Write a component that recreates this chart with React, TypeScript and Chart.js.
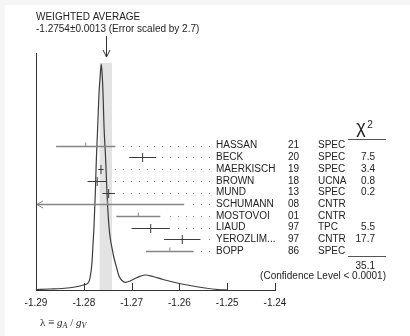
import { useEffect, useRef } from "react";
import { Chart, registerables } from "chart.js";
Chart.register(...registerables);

const names = ["HASSAN", "BECK", "MAERKISCH", "BROWN", "MUND", "SCHUMANN", "MOSTOVOI", "LIAUD", "YEROZLIM...", "BOPP"];
const years = ["21", "20", "19", "18", "13", "08", "01", "97", "97", "86"];
const methods = ["SPEC", "SPEC", "SPEC", "UCNA", "SPEC", "CNTR", "CNTR", "TPC", "CNTR", "SPEC"];
const values = [-1.2796, -1.2677, -1.27641, -1.2772, -1.2748, -1.275, -1.2686, -1.266, -1.2594, -1.262];
const errors = [0.0062, 0.0028, 0.00056, 0.002, 0.0013, 0.016, 0.0046, 0.004, 0.0038, 0.005];
const chi2 = ["", "7.5", "3.4", "0.8", "0.2", "", "", "5.5", "17.7", ""];
const used = [false, true, true, true, true, false, false, true, true, false];
const average = -1.2754;
const averageError = 0.0013;
const chi2Total = "35.1";
const xTicks = [-1.29, -1.28, -1.27, -1.26, -1.25, -1.24];

const curveX = [-1.29, -1.28707, -1.28456, -1.28247, -1.28079, -1.27975, -1.27912, -1.2787, -1.27828, -1.27808,
  -1.27787, -1.27759, -1.27738, -1.27709, -1.27682, -1.27655, -1.27634, -1.27615, -1.27598, -1.27577,
  -1.27542, -1.27515, -1.27473, -1.27441, -1.2741, -1.27368, -1.2732, -1.27264, -1.27201, -1.27128,
  -1.27033, -1.26887, -1.2672, -1.26552, -1.26343, -1.26092, -1.25778, -1.25464, -1.25192, -1.24983];
const curveY = [0.5, 1, 1.5, 2.5, 4, 5.5, 7, 12, 28, 45,
  63.3, 97, 130, 163.3, 196.7, 215, 226, 215, 196.7, 163.3,
  130, 97, 63.3, 50, 42, 32, 23.3, 14, 9.5, 7.7,
  9, 12.5, 15, 13.5, 10.5, 7.5, 4.5, 2, 0.5, 0];

const SANS = '"Liberation Sans", Arial, Helvetica, sans-serif';
const SERIF = '"Liberation Serif", "Times New Roman", serif';

const ideogramPlugin = {
  id: "ideogram",
  beforeDraw(chart: any) {
    const { ctx, width, height } = chart;
    ctx.save();
    ctx.fillStyle = "#f6f6f6";
    ctx.fillRect(0, 0, width, height);
    ctx.fillStyle = "#ffffff";
    ctx.fillRect(5, 5, width - 5, height - 5);
    ctx.restore();
  },
  beforeDatasetsDraw(chart: any) {
    const { ctx, chartArea, scales } = chart;
    const x = scales.x, y = scales.y;
    const x0 = x.getPixelForValue(average - averageError);
    const x1 = x.getPixelForValue(average + averageError);
    const top = y.getPixelForValue(Math.max(...curveY) + 1);
    ctx.save();
    ctx.fillStyle = "#e3e3e3";
    ctx.fillRect(x0, top, x1 - x0, chartArea.bottom - top);
    ctx.restore();
  },
  afterDatasetsDraw(chart: any) {
    const { ctx, chartArea, scales } = chart;
    const x = scales.x, r = scales.rows;
    ctx.save();
    for (let i = 0; i < names.length; i++) {
      const py = Math.round(r.getPixelForValue(i)) + 0.5;
      const lo = values[i] - errors[i];
      const hi = values[i] + errors[i];
      const clipped = lo < x.min;
      const pl = clipped ? chartArea.left + 1 : x.getPixelForValue(lo);
      const ph = x.getPixelForValue(hi);
      const pc = x.getPixelForValue(values[i]);
      ctx.strokeStyle = used[i] ? "#3a3a3a" : "#858585";
      ctx.lineWidth = used[i] ? 1 : 1.6;
      ctx.beginPath();
      ctx.moveTo(pl, py);
      ctx.lineTo(ph, py);
      ctx.stroke();
      ctx.lineWidth = 1;
      ctx.beginPath();
      if (used[i]) {
        ctx.moveTo(pc, py - 4.5);
        ctx.lineTo(pc, py + 4.5);
      } else {
        ctx.moveTo(pc, py - 4);
        ctx.lineTo(pc, py);
      }
      ctx.stroke();
      if (clipped) {
        ctx.beginPath();
        ctx.moveTo(pl + 6, py - 3.5);
        ctx.lineTo(pl, py);
        ctx.lineTo(pl + 6, py + 3.5);
        ctx.stroke();
      }
      // dotted leader
      ctx.fillStyle = "#8a8a8a";
      for (let k = 0; k < 40; k++) {
        const dx = 209 - k * 7.8;
        if (dx < ph + 5) break;
        ctx.fillRect(Math.round(dx), py - 0.5, 1, 1);
      }
    }
    ctx.restore();
  },
  afterDraw(chart: any) {
    const { ctx, chartArea, scales } = chart;
    const x = scales.x, r = scales.rows;
    ctx.save();
    ctx.fillStyle = "#222";
    ctx.strokeStyle = "#333";
    ctx.lineWidth = 1;
    // tick marks upward
    for (const t of xTicks) {
      const px = Math.round(x.getPixelForValue(t)) + 0.5;
      ctx.beginPath();
      ctx.moveTo(px, chartArea.bottom);
      ctx.lineTo(px, chartArea.bottom - 7);
      ctx.stroke();
    }
    // weighted average arrow
    const ax = Math.round(x.getPixelForValue(average)) + 0.5;
    ctx.beginPath();
    ctx.moveTo(ax, chartArea.top - 17);
    ctx.lineTo(ax, chartArea.top + 4);
    ctx.moveTo(ax - 3.5, chartArea.top - 3);
    ctx.lineTo(ax, chartArea.top + 4);
    ctx.lineTo(ax + 3.5, chartArea.top - 3);
    ctx.stroke();
    // header text
    ctx.font = "10px " + SANS;
    ctx.textBaseline = "middle";
    ctx.textAlign = "left";
    ctx.fillText("WEIGHTED AVERAGE", 36, 17);
    ctx.fillText("-1.2754\u00b10.0013 (Error scaled by 2.7)", 36, 29);
    // rows text
    for (let i = 0; i < names.length; i++) {
      const py = r.getPixelForValue(i);
      ctx.textAlign = "left";
      ctx.fillText(names[i], 216, py);
      ctx.fillText(years[i], 288, py);
      ctx.fillText(methods[i], 318, py);
      ctx.textAlign = "right";
      if (chi2[i]) ctx.fillText(chi2[i], 375, py);
    }
    // chi2 header
    ctx.textAlign = "center";
    ctx.textBaseline = "alphabetic";
    ctx.font = "18px " + SANS;
    ctx.fillText("\u03c7", 361, 133);
    ctx.font = "10px " + SANS;
    ctx.fillText("2", 370, 128);
    ctx.textBaseline = "middle";
    ctx.beginPath();
    ctx.strokeStyle = "#555";
    ctx.moveTo(348, 139.5);
    ctx.lineTo(386, 139.5);
    ctx.moveTo(348, 256.5);
    ctx.lineTo(386, 256.5);
    ctx.stroke();
    ctx.font = "10px " + SANS;
    ctx.textAlign = "right";
    ctx.fillText(chi2Total, 375, 266);
    ctx.fillText("(Confidence Level < 0.0001)", 386, 276.5);
    // caption
    ctx.textAlign = "left";
    ctx.textBaseline = "alphabetic";
    let cx = 40;
    const base = 326;
    const part = (txt: string, font: string, dy = 0) => {
      ctx.font = font;
      ctx.fillText(txt, cx, base + dy);
      cx += ctx.measureText(txt).width;
    };
    part("\u03bb \u2261 ", "11px " + SERIF);
    part("g", "italic 11px " + SERIF);
    part("A", "italic 8px " + SERIF, 2);
    part(" / ", "11px " + SERIF);
    part("g", "italic 11px " + SERIF);
    part("V", "italic 8px " + SERIF, 2);
    ctx.restore();
  },
};

export default function App() {
  const ref = useRef<HTMLCanvasElement | null>(null);
  useEffect(() => {
    document.body.style.margin = "0";
    const canvas = ref.current!;
    const chart = new Chart(canvas, {
      type: "line",
      data: {
        datasets: [
          {
            data: curveX.map((v, i) => ({ x: v, y: curveY[i] })),
            borderColor: "#3c3c3c",
            borderWidth: 1.2,
            pointRadius: 0,
            fill: false,
            cubicInterpolationMode: "monotone",
          },
        ],
      },
      options: {
        animation: false,
        responsive: false,
        devicePixelRatio: 1,
        layout: { padding: { left: 36, right: 135, top: 53, bottom: 0 } },
        plugins: { legend: { display: false }, tooltip: { enabled: false } },
        scales: {
          x: {
            type: "linear",
            min: -1.29,
            max: -1.24,
            afterBuildTicks: (s: any) => {
              s.ticks = xTicks.map((v) => ({ value: v }));
            },
            afterFit: (s: any) => {
              s.height = 46;
            },
            grid: { display: false, drawTicks: false },
            border: { display: true, color: "#333", width: 1 },
            ticks: {
              padding: 7,
              color: "#222",
              font: { size: 10, family: SANS },
              callback: (v: any) => Number(v).toFixed(2),
              maxRotation: 0,
              autoSkip: false,
            },
          },
          y: {
            type: "linear",
            position: "left",
            min: 0,
            max: 237,
            afterFit: (s: any) => {
              s.width = 0;
            },
            grid: { display: false, drawTicks: false },
            border: { display: true, color: "#333", width: 1 },
            ticks: { display: false },
          },
          rows: {
            type: "linear",
            axis: "y",
            position: "right",
            display: true,
            reverse: true,
            min: -7.923,
            max: 12.333,
            afterFit: (s: any) => {
              s.width = 0;
            },
            grid: { display: false, drawTicks: false },
            border: { display: false },
            ticks: { display: false },
          },
        },
      },
      plugins: [ideogramPlugin],
    } as any);
    return () => chart.destroy();
  }, []);
  return <canvas ref={ref} width={410} height={336} style={{ display: "block", width: 410, height: 336 }} />;
}
